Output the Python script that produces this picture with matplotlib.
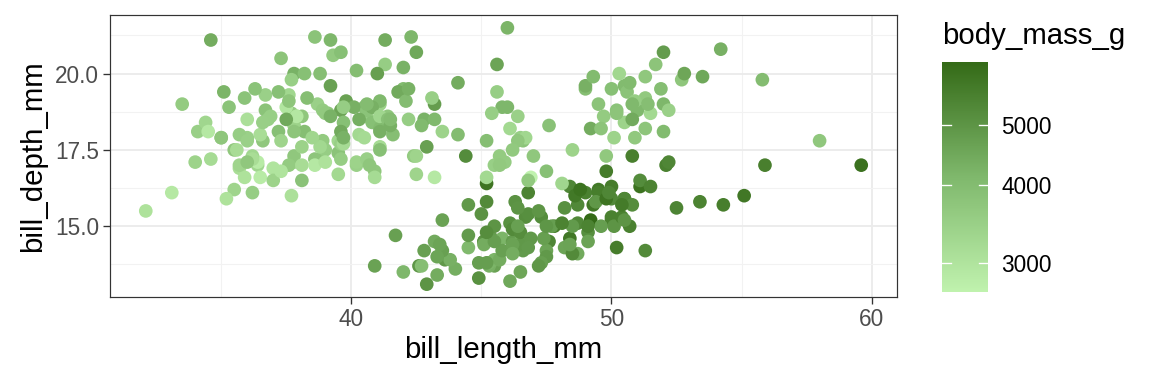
import matplotlib.pyplot as plt
from matplotlib.colors import LinearSegmentedColormap, LogNorm
import numpy as np

# palmer penguins: bill length, bill depth, body mass (rows with NA dropped)
adelie = [
    (39.1, 18.7, 3750), (39.5, 17.4, 3800), (40.3, 18.0, 3250), (36.7, 19.3, 3450),
    (39.3, 20.6, 3650), (38.9, 17.8, 3625), (39.2, 19.6, 4675), (34.1, 18.1, 3475),
    (42.0, 20.2, 4250), (37.8, 17.1, 3300), (37.8, 17.3, 3700), (41.1, 17.6, 3200),
    (38.6, 21.2, 3800), (34.6, 21.1, 4400), (36.6, 17.8, 3700), (38.7, 19.0, 3450),
    (42.5, 20.7, 4500), (34.4, 18.4, 3325), (46.0, 21.5, 4200), (37.8, 18.3, 3400),
    (37.7, 18.7, 3600), (35.9, 19.2, 3800), (38.2, 18.1, 3950), (38.8, 17.2, 3800),
    (35.3, 18.9, 3800), (40.6, 18.6, 3550), (40.5, 17.9, 3200), (37.9, 18.6, 3150),
    (40.5, 18.9, 3950), (39.5, 16.7, 3250), (37.2, 18.1, 3900), (39.5, 17.8, 3300),
    (40.9, 18.9, 3900), (36.4, 17.0, 3325), (39.2, 21.1, 4150), (38.8, 20.0, 3950),
    (42.2, 18.5, 3550), (37.6, 19.3, 3300), (39.8, 19.1, 4650), (36.5, 18.0, 3150),
    (40.8, 18.4, 3900), (36.0, 18.5, 3100), (44.1, 19.7, 4400), (37.0, 16.9, 3000),
    (39.6, 18.8, 4600), (41.1, 19.0, 3425), (37.5, 18.9, 2975), (36.0, 17.9, 3450),
    (42.3, 21.2, 4150), (39.6, 17.7, 3500), (40.1, 18.9, 4300), (35.0, 17.9, 3450),
    (42.0, 19.5, 4050), (34.5, 18.1, 2900), (41.4, 18.6, 3700), (39.0, 17.5, 3550),
    (40.6, 18.8, 3800), (36.5, 16.6, 2850), (37.6, 19.1, 3750), (35.7, 16.9, 3150),
    (41.3, 21.1, 4400), (37.6, 17.0, 3600), (41.1, 18.2, 4050), (36.4, 17.1, 2850),
    (41.6, 18.0, 3950), (35.5, 16.2, 3350), (41.1, 19.1, 4100), (35.9, 16.6, 3050),
    (41.8, 19.4, 4450), (33.5, 19.0, 3600), (39.7, 18.4, 3900), (39.6, 17.2, 3550),
    (45.8, 18.9, 4150), (35.5, 17.5, 3700), (42.8, 18.5, 4250), (40.9, 16.8, 3700),
    (37.2, 19.4, 3900), (36.2, 16.1, 3550), (42.1, 19.1, 4000), (34.6, 17.2, 3200),
    (42.9, 17.6, 4700), (36.7, 18.8, 3800), (35.1, 19.4, 4200), (37.3, 17.8, 3350),
    (41.3, 20.3, 3550), (36.3, 19.5, 3800), (36.9, 18.6, 3500), (38.3, 19.2, 3950),
    (38.9, 18.8, 3600), (35.7, 18.0, 3550), (41.1, 18.1, 4300), (34.0, 17.1, 3400),
    (39.6, 18.1, 4450), (36.2, 17.3, 3300), (40.8, 18.9, 4300), (38.1, 18.6, 3700),
    (40.3, 18.5, 4350), (33.1, 16.1, 2900), (43.2, 18.5, 4100), (35.0, 17.9, 3725),
    (41.0, 20.0, 4725), (37.7, 16.0, 3075), (37.8, 20.0, 4250), (37.9, 18.6, 2925),
    (39.7, 18.9, 3550), (38.6, 17.2, 3750), (38.2, 20.0, 3900), (38.1, 17.0, 3175),
    (43.2, 19.0, 4775), (38.1, 16.5, 3825), (45.6, 20.3, 4600), (39.7, 17.7, 3200),
    (42.2, 19.5, 4275), (39.6, 20.7, 3900), (42.7, 18.3, 4075), (38.6, 17.0, 2900),
    (37.3, 20.5, 3775), (35.7, 17.0, 3350), (41.1, 18.6, 3325), (36.2, 17.2, 3150),
    (37.7, 19.8, 3500), (40.2, 17.0, 3450), (41.4, 18.5, 3875), (35.2, 15.9, 3050),
    (40.6, 19.0, 4000), (38.8, 17.6, 3275), (41.5, 18.3, 4300), (39.0, 17.1, 3050),
    (44.1, 18.0, 4000), (38.5, 17.9, 3325), (43.1, 19.2, 3500), (36.8, 18.5, 3500),
    (37.5, 18.5, 4475), (38.1, 17.6, 3425), (41.1, 17.5, 3900), (35.6, 17.5, 3175),
    (40.2, 20.1, 3975), (37.0, 16.5, 3400), (39.7, 17.9, 4250), (40.2, 17.1, 3400),
    (40.6, 17.2, 3475), (32.1, 15.5, 3050), (40.7, 17.0, 3725), (37.3, 16.8, 3000),
    (39.0, 18.7, 3650), (39.2, 18.6, 4250), (36.6, 18.4, 3475), (36.0, 17.8, 3450),
    (37.8, 18.1, 3750), (36.0, 17.1, 3700), (41.5, 18.5, 4000),
]
gentoo = [
    (46.1, 13.2, 4500), (50.0, 16.3, 5700), (48.7, 14.1, 4450), (50.0, 15.2, 5700),
    (47.6, 14.5, 5400), (46.5, 13.5, 4550), (45.4, 14.6, 4800), (46.7, 15.3, 5200),
    (43.3, 13.4, 4400), (46.8, 15.4, 5150), (40.9, 13.7, 4650), (49.0, 16.1, 5550),
    (45.5, 13.7, 4650), (48.4, 14.6, 5850), (45.8, 14.6, 4200), (49.3, 15.7, 5850),
    (42.0, 13.5, 4150), (49.2, 15.2, 6300), (46.2, 14.5, 4800), (48.7, 15.1, 5350),
    (50.2, 14.3, 5700), (45.1, 14.5, 5000), (46.5, 14.5, 4400), (46.3, 15.8, 5050),
    (42.9, 13.1, 5000), (46.1, 15.1, 5100), (44.5, 14.3, 4100), (47.8, 15.0, 5650),
    (48.2, 14.3, 4600), (50.0, 15.3, 5550), (47.3, 15.3, 5250), (42.8, 14.2, 4700),
    (45.1, 14.5, 5050), (59.6, 17.0, 6050), (49.1, 14.8, 5150), (48.4, 16.3, 5400),
    (42.6, 13.7, 4950), (44.4, 17.3, 5250), (44.0, 13.6, 4350), (48.7, 15.7, 5350),
    (42.7, 13.7, 3950), (49.6, 16.0, 5700), (45.3, 13.7, 4300), (49.6, 15.0, 4750),
    (50.5, 15.9, 5550), (43.6, 13.9, 4900), (45.5, 13.9, 4200), (50.5, 15.9, 5400),
    (44.9, 13.3, 5100), (45.2, 15.8, 5300), (46.6, 14.2, 4850), (48.5, 14.1, 5300),
    (45.1, 14.4, 4400), (50.1, 15.0, 5000), (46.5, 14.4, 4900), (45.0, 15.4, 5050),
    (43.8, 13.9, 4300), (45.5, 15.0, 5000), (43.2, 14.5, 4450), (50.4, 15.3, 5550),
    (45.3, 13.8, 4200), (46.2, 14.9, 5300), (45.7, 13.9, 4400), (54.3, 15.7, 5650),
    (45.8, 14.2, 4700), (49.8, 16.8, 5700), (46.2, 14.4, 4650), (49.5, 16.2, 5800),
    (43.5, 14.2, 4700), (50.7, 15.0, 5550), (47.7, 15.0, 4750), (46.4, 15.6, 5000),
    (48.2, 15.6, 5100), (46.5, 14.8, 5200), (46.4, 15.0, 4700), (48.6, 16.0, 5800),
    (47.5, 14.2, 4600), (51.1, 16.3, 6000), (45.2, 13.8, 4750), (45.2, 16.4, 5950),
    (49.1, 14.5, 4625), (52.5, 15.6, 5450), (47.4, 14.6, 4725), (50.0, 15.9, 5350),
    (44.9, 13.8, 4750), (50.8, 17.3, 5600), (43.4, 14.4, 4600), (51.3, 14.2, 5300),
    (47.5, 14.0, 4875), (52.1, 17.0, 5550), (47.5, 15.0, 4950), (52.2, 17.1, 5400),
    (45.5, 14.5, 4750), (49.5, 16.1, 5650), (44.5, 14.7, 4850), (50.8, 15.7, 5200),
    (49.4, 15.8, 4925), (46.9, 14.6, 4875), (48.4, 14.4, 4625), (51.1, 16.5, 5250),
    (48.5, 15.0, 4850), (55.9, 17.0, 5600), (47.2, 15.5, 4975), (49.1, 15.0, 5500),
    (47.3, 13.8, 4725), (46.8, 16.1, 5500), (41.7, 14.7, 4700), (53.4, 15.8, 5500),
    (43.3, 14.0, 4575), (48.1, 15.1, 5500), (50.5, 15.2, 5000), (49.8, 15.9, 5950),
    (43.5, 15.2, 4650), (51.5, 16.3, 5500), (46.2, 14.1, 4375), (55.1, 16.0, 5850),
    (44.5, 15.7, 4875), (48.8, 16.2, 6000), (47.2, 13.7, 4925), (46.8, 14.3, 4850),
    (50.4, 15.7, 5750), (45.2, 14.8, 5200), (49.9, 16.1, 5400),
]
chinstrap = [
    (46.5, 17.9, 3500), (50.0, 19.5, 3900), (51.3, 19.2, 3650), (45.4, 18.7, 3525),
    (52.7, 19.8, 3725), (45.2, 17.8, 3950), (46.1, 18.2, 3250), (51.3, 18.2, 3750),
    (46.0, 18.9, 4150), (51.3, 19.9, 3700), (46.6, 17.8, 3800), (51.7, 20.3, 3775),
    (47.0, 17.3, 3700), (52.0, 18.1, 4050), (45.9, 17.1, 3575), (50.5, 19.6, 4050),
    (50.3, 20.0, 3300), (58.0, 17.8, 3700), (46.4, 18.6, 3450), (49.2, 18.2, 4400),
    (42.4, 17.3, 3600), (48.5, 17.5, 3400), (43.2, 16.6, 2900), (50.6, 19.4, 3800),
    (46.7, 17.9, 3300), (52.0, 19.0, 4150), (50.5, 18.4, 3400), (49.5, 19.0, 3800),
    (46.4, 17.8, 3700), (52.8, 20.0, 4550), (40.9, 16.6, 3200), (54.2, 20.8, 4300),
    (42.5, 16.7, 3350), (51.0, 18.8, 4100), (49.7, 18.6, 3600), (47.5, 16.8, 3900),
    (47.6, 18.3, 3850), (52.0, 20.7, 4800), (46.9, 16.6, 2700), (53.5, 19.9, 4500),
    (49.0, 19.5, 3950), (46.2, 17.5, 3650), (50.9, 19.1, 3550), (45.5, 17.0, 3500),
    (50.9, 17.9, 3675), (50.8, 18.5, 4450), (50.1, 17.9, 3400), (49.0, 19.6, 4300),
    (51.5, 18.7, 3250), (49.8, 17.3, 3675), (48.1, 16.4, 3325), (51.4, 19.0, 3950),
    (45.7, 17.3, 3600), (50.7, 19.7, 4050), (42.5, 17.3, 3350), (52.2, 18.8, 3450),
    (45.2, 16.6, 3250), (49.3, 19.9, 4050), (50.2, 18.8, 3800), (45.6, 19.4, 3525),
    (51.9, 19.5, 3950), (46.8, 16.5, 3650), (45.7, 17.0, 3650), (55.8, 19.8, 4000),
    (43.5, 18.1, 3400), (49.6, 18.2, 3775), (50.8, 19.0, 4100), (50.2, 18.7, 3775),
]

rows = np.array(adelie + gentoo + chinstrap)
bill_length = rows[:, 0]
bill_depth = rows[:, 1]
body_mass = rows[:, 2]

plt.rcParams['font.family'] = ['Liberation Sans', 'DejaVu Sans']

cmap = LinearSegmentedColormap.from_list("greens", ["#c0f2ae", "#7fb86c", "#346a17"])
norm = LogNorm(vmin=body_mass.min(), vmax=body_mass.max())

fig = plt.figure(figsize=(12, 4), dpi=96)
ax = fig.add_axes([110 / 1152, 1 - 297 / 384, 787 / 1152, 282 / 384])

ax.scatter(bill_length, bill_depth, c=body_mass, cmap=cmap, norm=norm,
           s=105, linewidths=0, zorder=3)

xr = bill_length.max() - bill_length.min()
yr = bill_depth.max() - bill_depth.min()
ax.set_xlim(bill_length.min() - 0.05 * xr, bill_length.max() + 0.05 * xr)
ax.set_ylim(bill_depth.min() - 0.05 * yr, bill_depth.max() + 0.05 * yr)

ax.set_xticks([40, 50, 60])
ax.set_xticks([35, 45, 55], minor=True)
ax.set_yticks([15.0, 17.5, 20.0])
ax.set_yticklabels(["15.0", "17.5", "20.0"])
ax.set_yticks([13.75, 16.25, 18.75, 21.25], minor=True)
ax.grid(True, which='major', color='#ebebeb', linewidth=1.4, zorder=0)
ax.grid(True, which='minor', color='#f2f2f2', linewidth=0.8, zorder=0)
ax.set_axisbelow(True)
ax.tick_params(which='major', length=5, width=1, color='#333333',
               labelsize=17, labelcolor='#4d4d4d', pad=3)
ax.tick_params(which='minor', length=0)
for sp in ax.spines.values():
    sp.set_color('#333333')
    sp.set_linewidth(0.9)
ax.set_xlabel("bill_length_mm", fontsize=22, labelpad=4)
ax.set_ylabel("bill_depth_mm", fontsize=22, labelpad=6)

# colour bar
cax = fig.add_axes([942 / 1152, 1 - 292 / 384, 46 / 1152, 230 / 384])
cb = fig.colorbar(plt.cm.ScalarMappable(norm=norm, cmap=cmap), cax=cax)
cb.outline.set_visible(False)
cb.set_ticks([3000, 4000, 5000])
cb.set_ticklabels(["3000", "4000", "5000"])
cb.ax.minorticks_off()
cax.tick_params(length=0, labelsize=17, pad=10)
for v in [3000, 4000, 5000]:
    cax.plot([0, 0.2], [v, v], color='white', lw=1, transform=cax.get_yaxis_transform())
    cax.plot([0.8, 1], [v, v], color='white', lw=1, transform=cax.get_yaxis_transform())
fig.text(942 / 1152, 1 - 36 / 384, "body_mass_g", fontsize=22, va='center', ha='left')

fig.savefig("out.png", dpi=96)
